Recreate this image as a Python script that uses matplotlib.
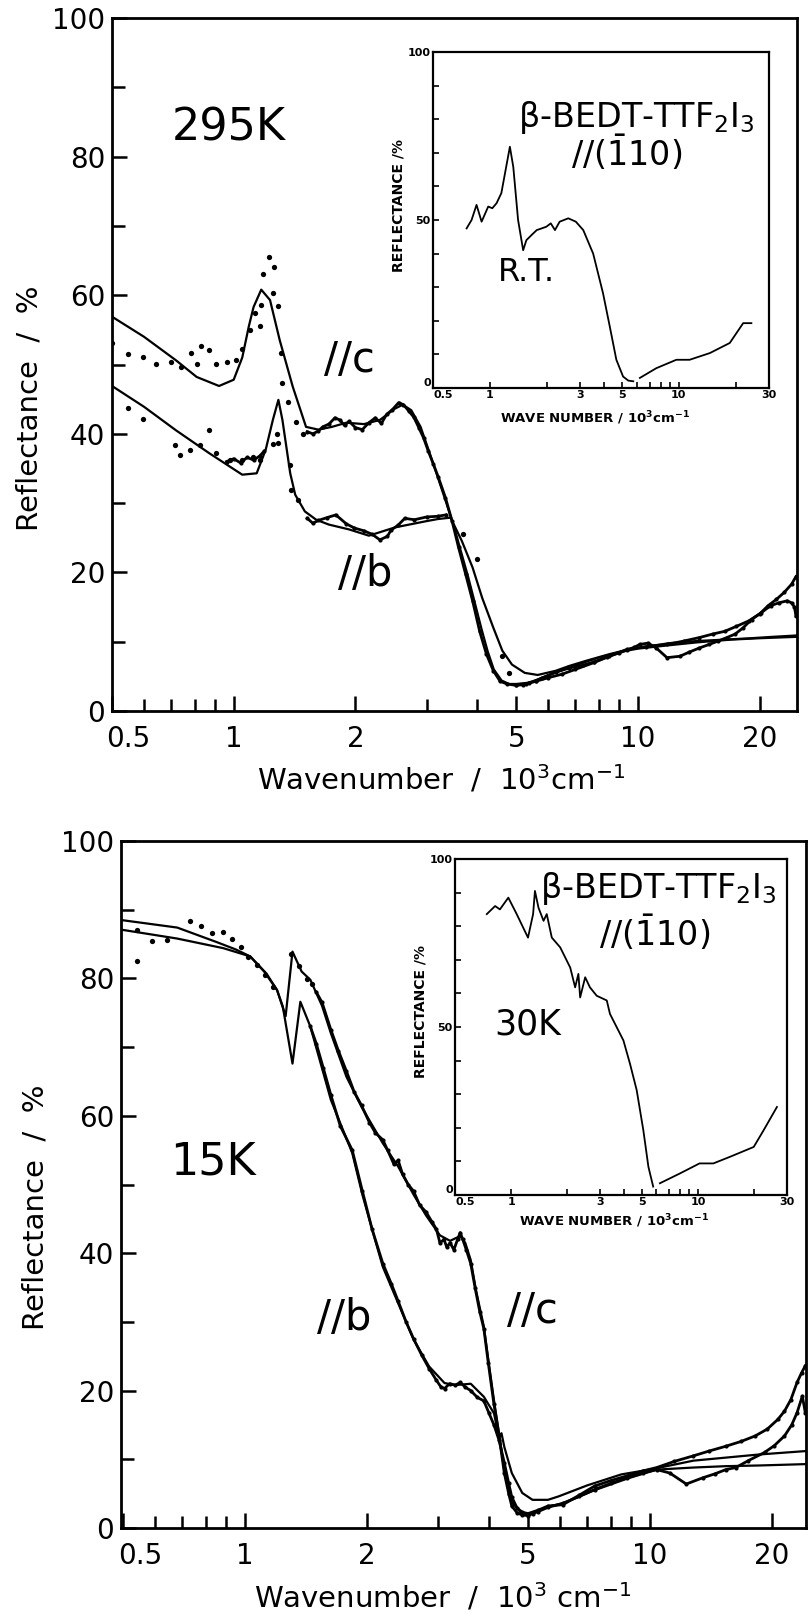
import numpy as np
import matplotlib
matplotlib.use("Agg")
import matplotlib.pyplot as plt
from matplotlib.ticker import NullFormatter

W, H = 811, 1616
nan = np.nan

plt.rcParams['font.family'] = ['DejaVu Sans']
plt.rcParams['mathtext.default'] = 'regular'

# ---------------- 295 K spectra (wavenumber in 10^3 cm^-1, reflectance in %) ----------------
top_c_fit_x = [0.50, 0.60, 0.72, 0.81, 0.92, 1.00, 1.05, 1.09, 1.12, 1.17, 1.23, 1.30, 1.40, 1.51, 1.62,
               1.75, 1.90, 2.10, 2.30, 2.50, 2.62, 2.75, 2.90, 3.05, 3.20, 3.35, 3.50, 3.65, 3.80, 3.95,
               4.10, 4.25, 4.40, 4.60, 4.80, 5.00, 5.40, 5.80, 6.30, 7.00, 8.00, 9.00, 10.0, 12.0, 14.0,
               17.0, 20.0, 24.7]
top_c_fit_y = [56.9, 54.0, 50.6, 48.2, 46.9, 47.8, 51.0, 55.5, 58.3, 60.8, 59.3, 53.5, 46.8, 41.0, 40.6,
               41.0, 41.6, 41.4, 42.0, 43.6, 44.2, 43.4, 41.0, 37.3, 33.7, 30.2, 26.8, 23.0, 19.4, 15.6,
               11.9, 8.6, 6.0, 4.4, 3.9, 3.9, 4.1, 4.8, 5.6, 6.6, 7.7, 8.5, 9.0, 9.5, 9.9,
               10.3, 10.5, 10.7]

top_c_dots_x = [0.50, 0.547, 0.596, 0.643, 0.70, 0.742, 0.786, 0.81, 0.83, 0.87, 0.906, 0.96, 1.015, 1.05,
                1.095, 1.13, 1.16, 1.17, 1.18, 1.22, 1.25, 1.26, 1.29, 1.31, 1.32, 1.36, 1.43, 1.48]
top_c_dots_y = [53.1, 51.5, 51.1, 50.1, 50.4, 49.7, 51.6, 50.1, 52.7, 52.1, 50.1, 50.4, 50.6, 52.3,
                55.0, 57.4, 55.5, 58.6, 63.1, 65.5, 60.3, 64.1, 58.4, 51.6, 47.4, 44.6, 41.7, 40.0]

top_c_trace_x = [1.52, 1.57, 1.62, 1.66, 1.72, 1.78, 1.83, 1.88, 1.93, 2.00, 2.08, 2.16, 2.24, 2.32, 2.39,
                 2.47, 2.56, 2.63, 2.71, 2.79, 2.87, 2.95, 3.03, 3.12, 3.21, 3.34, 3.47, 3.60, 3.75, 3.90,
                 4.06, 4.22, 4.39, 4.56, 4.74, 5.00, 5.20, 5.39, 5.60, 5.80, 6.26, 6.76, 7.30, 7.80, 8.40,
                 9.00, 9.40, 9.80, 10.1, 10.6, 11.1, 11.8, 12.7, 13.4, 14.2, 15.0, 15.8, 16.6, 17.4, 18.2,
                 19.1, 20.2, 21.3, 22.3, 23.4, 24.0, 24.4, 24.6]
top_c_trace_y = [40.3, 40.0, 40.4, 41.0, 41.4, 42.3, 42.0, 41.2, 41.8, 40.9, 40.6, 41.6, 42.3, 41.5, 42.8,
                 43.5, 44.5, 44.2, 43.3, 42.4, 40.9, 39.4, 37.5, 35.6, 33.7, 30.8, 27.4, 23.6, 19.7, 15.9,
                 11.5, 8.2, 5.8, 4.3, 3.9, 3.7, 3.8, 4.1, 4.4, 4.8, 5.6, 6.2, 6.6, 7.1, 7.8,
                 8.4, 8.8, 9.2, 9.6, 9.8, 9.1, 7.7, 7.9, 8.5, 9.1, 9.6, 10.1, 10.6, 11.1, 12.0,
                 13.2, 14.2, 15.2, 15.6, 15.9, 15.6, 15.0, 13.7]

top_b_fit_x = [0.50, 0.60, 0.72, 0.87, 1.05, 1.14, 1.20, 1.25, 1.29, 1.32, 1.38, 1.42, 1.50, 1.60, 1.72,
               1.93, 2.16, 2.51, 3.00, 3.20, 3.44, 3.67, 3.90, 4.12, 4.39, 4.62, 4.88, 5.25, 5.65, 6.26,
               6.76, 7.50, 8.50, 9.50, 10.5, 12.0, 14.0, 16.4, 19.0, 21.5, 24.7]
top_b_fit_y = [46.9, 43.9, 40.5, 37.2, 34.1, 34.3, 37.7, 42.0, 44.9, 42.0, 34.3, 31.2, 28.8, 27.6, 26.9,
               26.2, 25.3, 26.5, 27.4, 27.7, 27.9, 24.5, 20.7, 16.3, 12.0, 8.7, 6.7, 5.5, 5.2, 5.8,
               6.5, 7.3, 8.2, 8.9, 9.3, 9.8, 10.1, 10.3, 10.5, 10.7, 10.9]

top_b_dots_x = [0.547, 0.596, 0.714, 0.735, 0.78, 0.824, 0.87, 0.906, 0.977, 1.05, 1.116, 1.16, 1.25, 1.28,
                1.29, 1.38, 1.39, 1.44, 3.70, 4.00, 4.60, 4.80]
top_b_dots_y = [43.7, 42.2, 38.4, 36.9, 37.7, 38.4, 40.5, 37.2, 36.2, 36.2, 36.7, 36.2, 38.6, 40.0,
                38.7, 35.5, 31.9, 30.4, 25.5, 22.0, 7.9, 5.5]

top_b_trace_x = [0.96, 1.00, 1.04, 1.08, 1.12, 1.16, 1.19, 1.30, 1.52, 1.57, 1.62, 1.70, 1.79, 1.90, 1.99,
                 2.10, 2.20, 2.30, 2.40, 2.45, 2.55, 2.65, 2.80, 3.00, 3.20, 3.35, 4.00, 5.00, 5.30, 5.60,
                 6.00, 6.48, 7.00, 7.80, 8.50, 9.40, 10.5, 11.8, 13.0, 14.2, 15.3, 16.4, 17.5, 18.8, 20.0,
                 21.0, 22.0, 23.0, 24.0, 24.6]
top_b_trace_y = [36.0, 36.4, 35.8, 36.6, 36.2, 36.8, 37.5, nan, 27.8, 27.1, 27.5, 27.9, 28.3, 27.0, 26.4,
                 26.0, 25.5, 24.7, 25.2, 26.1, 26.8, 27.8, 27.6, 28.0, 28.1, 28.3, nan, 3.8, 3.9, 4.3,
                 4.8, 5.3, 6.0, 7.0, 7.9, 8.9, 9.3, 9.6, 10.1, 10.6, 11.1, 11.5, 12.2, 13.0, 14.0,
                 15.2, 16.1, 17.1, 18.3, 19.4]

# ---------------- 15 K spectra ----------------
bot_c_fit_x = [0.494, 0.68, 0.85, 0.95, 1.03, 1.115, 1.20, 1.26, 1.31, 1.38, 1.45, 1.55, 1.63, 1.78, 1.94,
               2.19, 2.39, 2.61, 2.80, 3.03, 3.21, 3.40, 3.50, 3.61, 3.72, 3.89, 3.99, 4.12, 4.24, 4.37,
               4.56, 4.84, 5.13, 5.60, 6.10, 7.30, 8.80, 10.4, 12.8, 15.4, 18.6, 24.3]
bot_c_fit_y = [88.5, 87.4, 85.3, 84.2, 83.2, 81.0, 78.3, 74.5, 83.9, 81.0, 79.8, 76.0, 72.0, 65.7, 61.3,
               56.0, 52.6, 48.5, 45.5, 42.6, 41.8, 42.5, 41.5, 39.0, 34.6, 29.3, 24.5, 18.6, 13.8, 8.4,
               3.8, 2.0, 2.2, 3.1, 3.6, 5.5, 7.2, 8.5, 8.8, 9.0, 9.1, 9.3]

bot_b_fit_x = [0.494, 0.68, 0.884, 1.03, 1.13, 1.20, 1.24, 1.31, 1.37, 1.45, 1.63, 1.84, 1.95, 2.06, 2.19,
               2.39, 2.61, 2.85, 3.11, 3.31, 3.61, 3.89, 4.12, 4.24, 4.30, 4.37, 4.56, 4.84, 5.13, 5.60,
               5.95, 7.00, 8.50, 10.2, 12.8, 18.6, 24.3]
bot_b_fit_y = [87.1, 85.8, 84.4, 83.2, 80.7, 78.3, 75.9, 67.6, 76.6, 73.0, 62.3, 54.6, 48.5, 43.5, 38.0,
               32.7, 27.4, 23.5, 21.1, 20.8, 21.0, 19.1, 16.7, 13.2, 13.8, 11.8, 8.0, 5.1, 4.1, 4.1,
               4.6, 6.2, 7.8, 8.6, 9.8, 10.7, 11.2]

bot_dots_x = [0.54, 0.54, 0.59, 0.64, 0.73, 0.78, 0.83, 0.88, 0.93, 0.98, 1.02, 1.07, 1.12, 1.17,
              1.30, 1.36, 1.42, 1.46]
bot_dots_y = [87.0, 82.6, 85.4, 85.6, 88.3, 87.6, 86.6, 86.8, 85.8, 84.6, 83.1, 82.0, 80.5, 78.8,
              83.5, 81.8, 79.9, 79.2]

bot_c_trace_x = [1.50, 1.55, 1.63, 1.70, 1.78, 1.86, 1.94, 2.03, 2.10, 2.19, 2.25, 2.33, 2.39, 2.45, 2.53,
                 2.61, 2.70, 2.80, 2.90, 2.97, 3.03, 3.10, 3.15, 3.21, 3.28, 3.35, 3.40, 3.45, 3.52, 3.61,
                 3.70, 3.80, 3.89, 3.99, 4.12, 4.24, 4.37, 4.48, 4.56, 4.70, 4.84, 5.00, 5.13, 5.30, 5.60,
                 6.10, 6.70, 7.30, 8.00, 8.80, 9.60, 10.4, 11.2, 12.3, 13.5, 14.5, 15.4, 16.3, 17.5, 19.2,
                 20.3, 21.5, 22.4, 23.1, 23.8, 24.2]
bot_c_trace_y = [78.0, 76.5, 72.5, 69.5, 66.5, 63.5, 61.5, 59.0, 57.5, 56.5, 55.0, 53.0, 53.5, 51.5, 50.0,
                 49.0, 47.0, 46.0, 44.5, 43.5, 41.5, 42.0, 40.9, 41.5, 40.5, 42.0, 43.0, 42.0, 40.5, 38.5,
                 35.0, 31.5, 29.0, 24.0, 18.0, 13.5, 8.0, 5.0, 3.2, 2.2, 1.9, 1.8, 2.1, 2.4, 3.0,
                 3.6, 4.6, 5.6, 6.5, 7.3, 8.0, 8.5, 8.0, 6.4, 7.3, 7.9, 8.5, 8.8, 9.8, 11.0,
                 12.0, 13.4, 15.0, 16.8, 19.2, 16.8]

bot_b_trace_x = [1.45, 1.50, 1.56, 1.63, 1.72, 1.84, 1.95, 2.06, 2.19, 2.30, 2.39, 2.50, 2.61, 2.73, 2.85,
                 2.97, 3.05, 3.11, 3.20, 3.31, 3.40, 3.50, 3.61, 3.75, 3.89, 4.00, 4.12, 4.24, 4.37, 4.48,
                 4.56, 4.70, 4.84, 5.00, 5.30, 5.60, 6.10, 6.70, 7.30, 8.00, 8.80, 9.60, 10.4, 11.5, 12.8,
                 14.0, 15.4, 16.8, 18.2, 19.5, 20.7, 21.5, 22.3, 23.1, 23.7, 24.2]
bot_b_trace_y = [73.0, 70.5, 67.0, 63.0, 58.5, 55.0, 49.0, 43.5, 38.5, 35.5, 33.0, 30.0, 27.5, 25.2, 23.2,
                 21.5, 20.5, 20.3, 21.0, 20.8, 21.2, 20.5, 20.0, 19.0, 18.5, 16.8, 15.0, 12.8, 9.5, 6.5,
                 4.5, 2.9, 2.3, 2.1, 2.6, 3.2, 3.4, 4.8, 6.1, 6.9, 7.6, 8.3, 8.8, 9.7, 10.5,
                 11.2, 11.9, 12.6, 13.4, 14.4, 15.8, 17.0, 18.7, 21.2, 22.6, 23.6]

# ---------------- inset spectra, E // (-110) ----------------
inset_rt_x = [0.753, 0.80, 0.85, 0.904, 0.98, 1.03, 1.085, 1.15, 1.276, 1.33, 1.41, 1.50, 1.56, 1.66, 1.77,
              1.88, 1.99, 2.10, 2.21, 2.34, 2.60, 2.85, 3.12, 3.52, 3.97, 4.31, 4.67, 5.07, 5.40, 5.74,
              5.95, 6.22, 7.60, 9.70, 11.4, 14.6, 18.6, 21.9, 24.2]
inset_rt_y = [47.5, 50.0, 54.5, 49.5, 54.0, 53.5, 55.0, 58.0, 71.8, 65.8, 50.0, 41.0, 44.0, 45.5, 47.0,
              47.5, 48.0, 49.0, 47.0, 49.5, 50.5, 49.5, 47.0, 40.0, 28.2, 18.3, 8.4, 3.4, 2.2, 2.0,
              nan, 3.0, 5.9, 8.4, 8.4, 10.4, 13.4, 19.3, 19.3]

inset_30k_x = [0.74, 0.82, 0.87, 0.965, 1.07, 1.23, 1.31, 1.34, 1.40, 1.49, 1.55, 1.65, 1.83, 2.07, 2.20,
               2.29, 2.34, 2.49, 2.64, 2.87, 3.25, 3.38, 3.99, 4.33, 4.70, 5.10, 5.43, 5.76, 6.00, 6.26,
               8.00, 10.2, 12.1, 14.9, 19.9, 22.5, 26.5]
inset_30k_y = [83.6, 86.0, 85.0, 88.5, 83.6, 76.6, 83.6, 90.5, 85.5, 81.6, 83.6, 76.6, 73.7, 67.7, 61.8,
               65.8, 58.8, 64.8, 61.8, 59.3, 57.9, 53.9, 46.0, 39.0, 31.2, 19.3, 8.4, 2.5, nan, 3.5,
               6.4, 9.4, 9.4, 11.4, 14.3, 19.3, 26.2]

# ---------------- axis ticks ----------------
main_xticks = [0.5, 1, 2, 5, 10, 20]
main_xticklabels = ['0.5', '1', '2', '5', '10', '20']
main_xminor = [0.6, 0.7, 0.8, 0.9, 3, 4, 6, 7, 8, 9]
main_yticks = [0, 20, 40, 60, 80, 100]
main_yminor = [10, 30, 50, 70, 90]
inset_xticks = [0.5, 1, 3, 5, 10, 30]
inset_xticklabels = ['0.5', '1', '3', '5', '10', '30']
inset_xminor = [2, 4, 6, 7, 8, 9, 20]
inset_yticks = [0, 50, 100]
inset_yminor = [10, 20, 30, 40, 60, 70, 80, 90]


def rect(left, top, right, bottom):
    """Axes rectangle from pixel edges measured from the top-left corner."""
    return [left / W, 1 - bottom / H, (right - left) / W, (bottom - top) / H]


def style_main(ax, xmin, xmax):
    ax.set_xscale('log')
    ax.set_xlim(xmin, xmax)
    ax.set_ylim(0, 100)
    ax.set_xticks(main_xticks, labels=[''] + main_xticklabels[1:])
    ax.set_xticks(main_xminor, minor=True)
    ax.xaxis.set_minor_formatter(NullFormatter())
    ax.set_yticks(main_yticks)
    ax.set_yticks(main_yminor, minor=True)
    ax.tick_params(which='both', direction='in', width=1.8, top=False, right=False)
    ax.tick_params(which='major', length=11, labelsize=20)
    ax.tick_params(which='minor', length=9)
    ax.tick_params(axis='x', pad=10)
    ax.tick_params(axis='y', pad=5)
    for sp in ax.spines.values():
        sp.set_linewidth(2.0)
    # the first label sits just right of the y axis
    ax.annotate('0.5', xy=(0.5, 0), xycoords=('data', 'axes fraction'),
                xytext=(12, -10), textcoords='offset points',
                ha='center', va='top', fontsize=20)


def style_inset(ax):
    ax.set_xscale('log')
    ax.set_xlim(0.5, 30)
    ax.set_ylim(0, 100)
    ax.set_xticks(inset_xticks, labels=inset_xticklabels)
    ax.set_xticks(inset_xminor, minor=True)
    ax.xaxis.set_minor_formatter(NullFormatter())
    ax.set_yticks(inset_yticks)
    ax.set_yticks(inset_yminor, minor=True)
    ax.tick_params(which='both', direction='in', width=1.2, length=4,
                   top=False, right=False, labelsize=8, pad=1.5)
    for lab in ax.get_xticklabels() + ax.get_yticklabels():
        lab.set_fontweight('bold')
    # keep the 0.5 label clear of the y-axis "0"
    ax.get_xticklabels()[0].set_horizontalalignment('left')
    ax.get_yticklabels()[0].set_verticalalignment('bottom')
    for sp in ax.spines.values():
        sp.set_linewidth(1.6)


def draw_fit(ax, x, y):
    ax.plot(x, y, '-', color='k', lw=1.6, zorder=3)


def draw_dots(ax, x, y):
    ax.plot(x, y, 'o', color='k', ms=3.8, mew=0, zorder=4)


def draw_trace(ax, x, y):
    ax.plot(x, y, '-', color='k', lw=2.0, marker='o', ms=3.0, mew=0, zorder=4)


fig = plt.figure(figsize=(W / 100, H / 100), dpi=100)
fig.patch.set_facecolor('white')

ax_top = fig.add_axes(rect(112, 18, 797, 711))
ax_bot = fig.add_axes(rect(121, 841, 806, 1528))
in_top = fig.add_axes(rect(433, 52, 769, 388))
in_bot = fig.add_axes(rect(455, 859, 787, 1195))

# 295 K
style_main(ax_top, 0.5, 24.75)
draw_fit(ax_top, top_c_fit_x, top_c_fit_y)
draw_fit(ax_top, top_b_fit_x, top_b_fit_y)
draw_dots(ax_top, top_c_dots_x, top_c_dots_y)
draw_dots(ax_top, top_b_dots_x, top_b_dots_y)
draw_trace(ax_top, top_c_trace_x, top_c_trace_y)
draw_trace(ax_top, top_b_trace_x, top_b_trace_y)
ax_top.text(0.97, 84.1, '295K', fontsize=32, ha='center', va='center')
ax_top.text(1.93, 50.6, '//c', fontsize=30, ha='center', va='center')
ax_top.text(2.12, 19.8, '//b', fontsize=30, ha='center', va='center')

# 15 K
style_main(ax_bot, 0.494, 24.3)
draw_fit(ax_bot, bot_c_fit_x, bot_c_fit_y)
draw_fit(ax_bot, bot_b_fit_x, bot_b_fit_y)
draw_dots(ax_bot, bot_dots_x, bot_dots_y)
draw_trace(ax_bot, bot_c_trace_x, bot_c_trace_y)
draw_trace(ax_bot, bot_b_trace_x, bot_b_trace_y)
ax_bot.text(0.834, 53.3, '15K', fontsize=32, ha='center', va='center')
ax_bot.text(1.756, 30.6, '//b', fontsize=30, ha='center', va='center')
ax_bot.text(5.14, 31.6, '//c', fontsize=30, ha='center', va='center')

# insets
formula = r'$\beta$-BEDT-TTF$_2$I$_3$'
direction = r'//($\bar{1}$10)'

style_inset(in_top)
in_top.plot(inset_rt_x, inset_rt_y, '-', color='k', lw=1.3)
in_top.text(1.57, 34.3, 'R.T.', fontsize=23, ha='center', va='center')
in_top.text(5.99, 80.6, formula, fontsize=24, ha='center', va='center')
in_top.text(5.3, 69.9, direction, fontsize=24, ha='center', va='center')

style_inset(in_bot)
in_bot.plot(inset_30k_x, inset_30k_y, '-', color='k', lw=1.3)
in_bot.text(1.23, 50.7, '30K', fontsize=25, ha='center', va='center')
in_bot.text(6.12, 91.1, formula, fontsize=24, ha='center', va='center')
in_bot.text(5.87, 78.0, direction, fontsize=24, ha='center', va='center')

# axis titles
fig.text(441 / W, 1 - 780 / H, r'Wavenumber  /  10$^3$cm$^{-1}$', fontsize=21, ha='center', va='center')
fig.text(443 / W, 1 - 1598 / H, r'Wavenumber  /  10$^3$ cm$^{-1}$', fontsize=21, ha='center', va='center')
fig.text(30 / W, 1 - 408 / H, 'Reflectance  /  %', fontsize=21, rotation=90, ha='center', va='center')
fig.text(36 / W, 1 - 1207 / H, 'Reflectance  /  %', fontsize=21, rotation=90, ha='center', va='center')
fig.text(399 / W, 1 - 205 / H, 'REFLECTANCE /%', fontsize=10, weight='bold', rotation=90,
         ha='center', va='center')
fig.text(420 / W, 1 - 1012 / H, 'REFLECTANCE /%', fontsize=10, weight='bold', rotation=90,
         ha='center', va='center')
fig.text(595 / W, 1 - 418 / H, r'WAVE NUMBER / 10$^3$cm$^{-1}$', fontsize=9.5, weight='bold',
         ha='center', va='center')
fig.text(614 / W, 1 - 1221 / H, r'WAVE NUMBER / 10$^3$cm$^{-1}$', fontsize=9.5, weight='bold',
         ha='center', va='center')

fig.savefig('out.png', dpi=100)
